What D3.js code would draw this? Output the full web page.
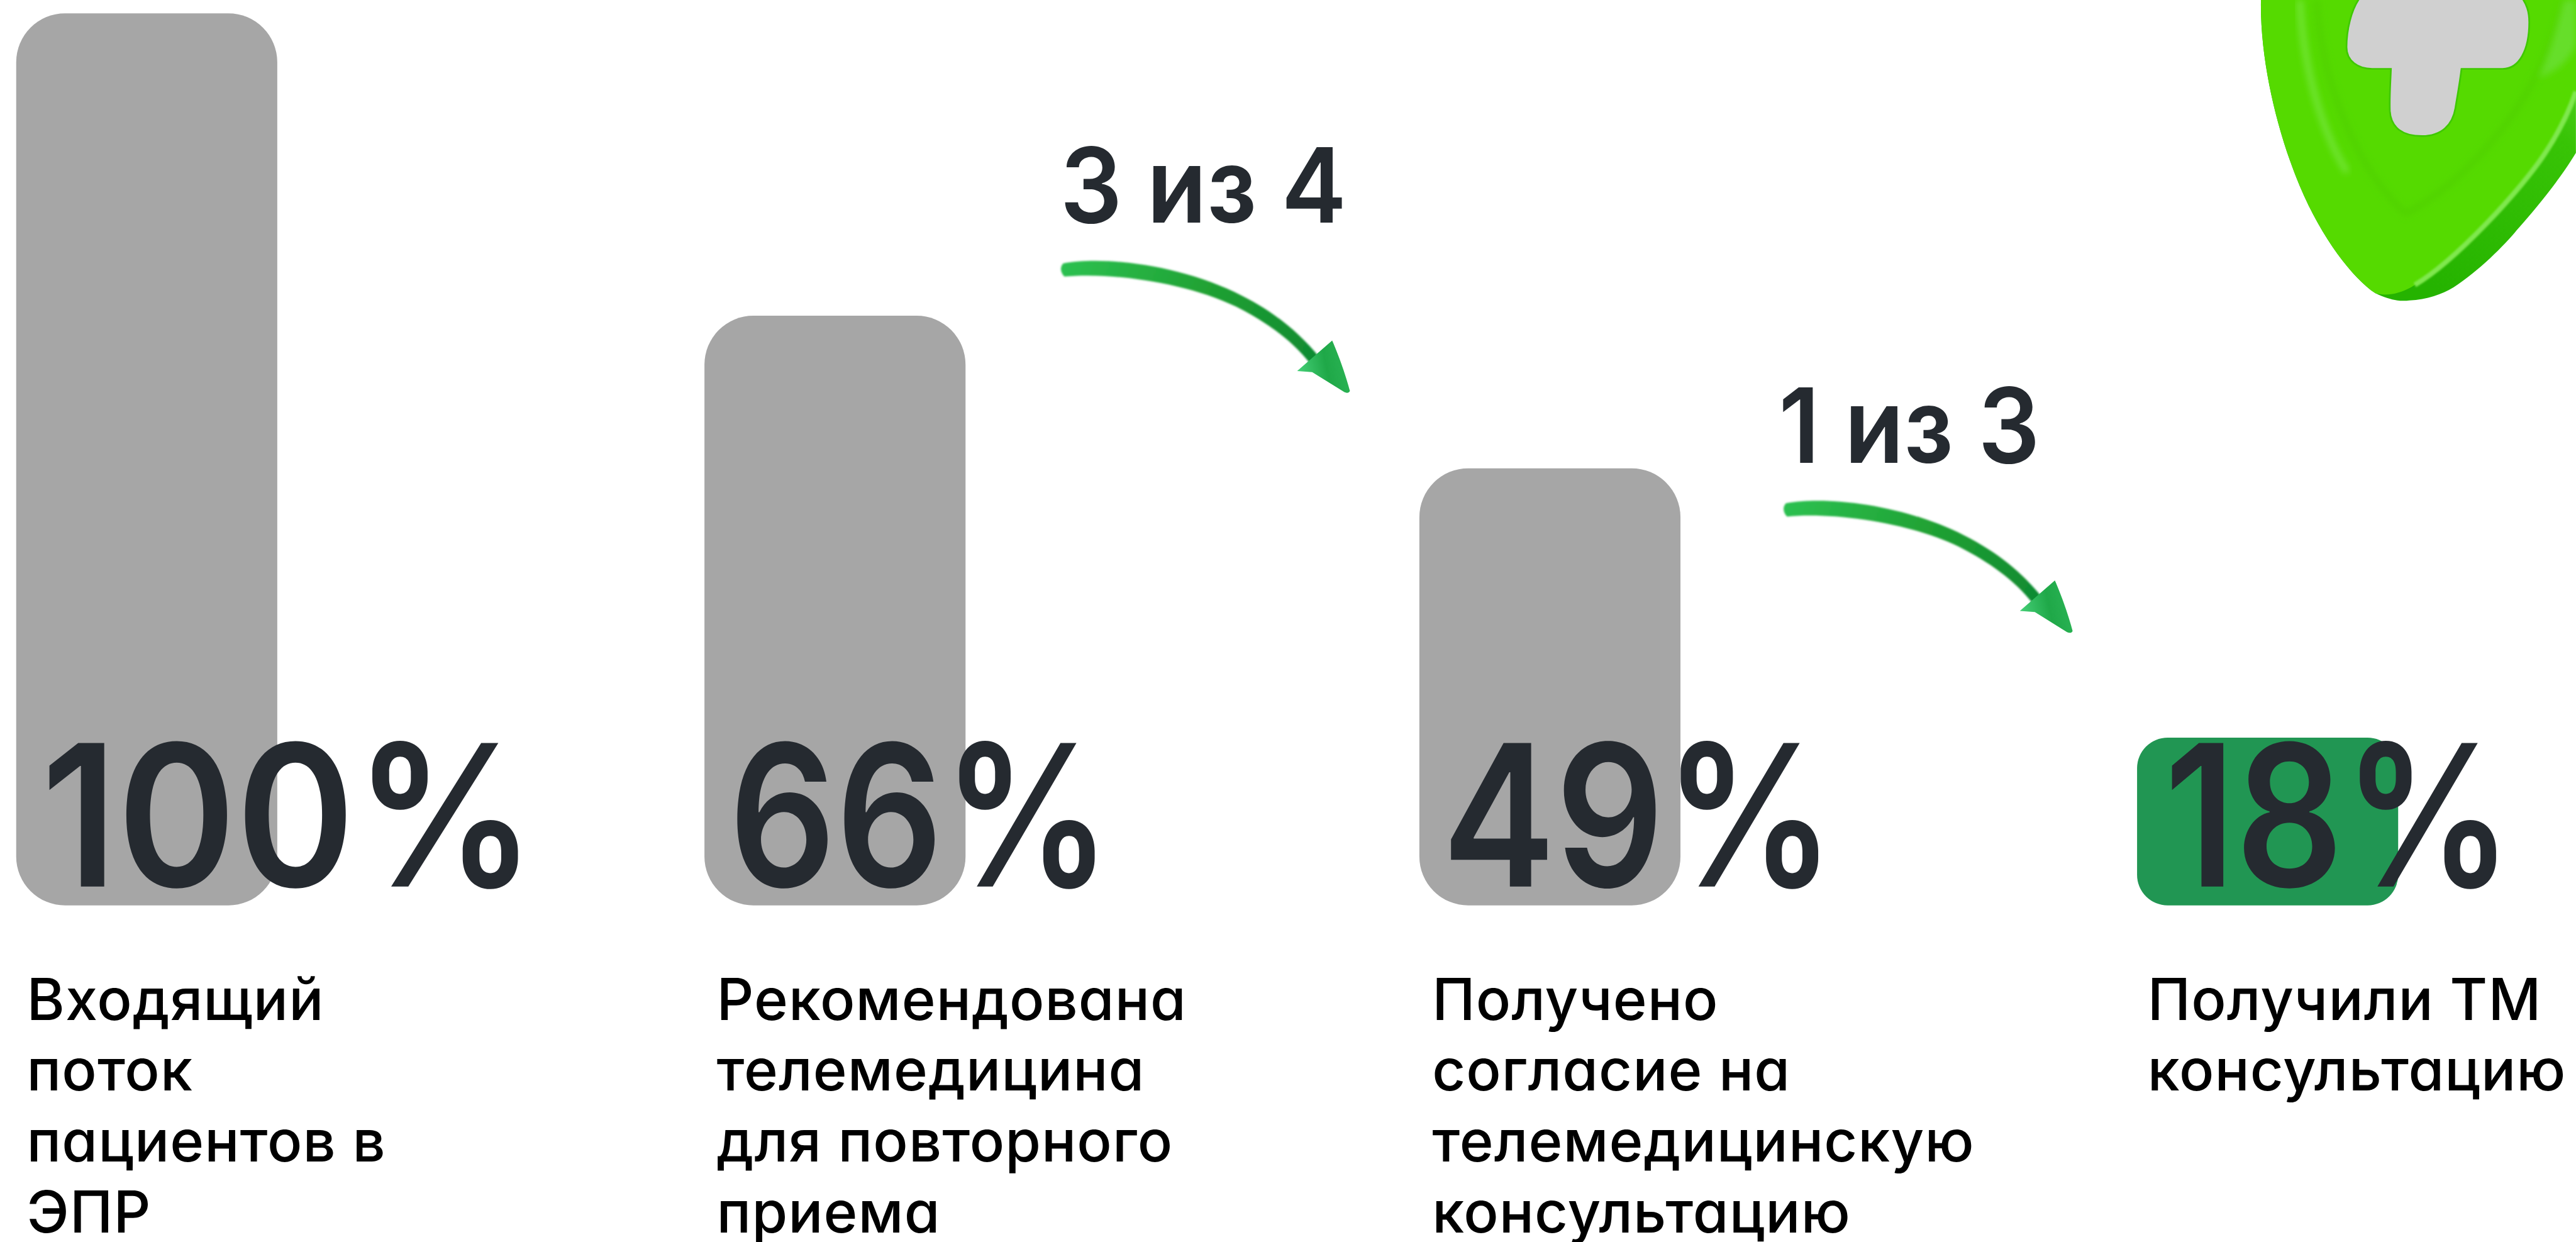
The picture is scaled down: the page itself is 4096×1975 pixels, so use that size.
<!DOCTYPE html>
<html>
<head>
<meta charset="utf-8">
<script src="https://cdn.jsdelivr.net/npm/d3@7"></script>
<style>
  html, body { margin: 0; padding: 0; background: #fff; overflow: hidden; }
  svg { display: block; }
  text { font-family: "Inter", "Noto Sans", sans-serif; font-feature-settings: "cv11" 1; }
</style>
</head>
<body>
<div id="chart"></div>
<script>
const categories = ["incoming", "recommended", "consent", "received"];
const barValues = [100, 66.1, 49, 18.8];
const valueLabels = ["100%", "66%", "49%", "18%"];
const captions = [
  ["Входящий", "поток", "пациентов в", "ЭПР"],
  ["Рекомендована", "телемедицина", "для повторного", "приема"],
  ["Получено", "согласие на", "телемедицинскую", "консультацию"],
  ["Получили ТМ", "консультацию"]
];
const ratioLabels = ["3 из 4", "1 из 3"];

// everything below is in reference pixels, the viewBox shrinks it to the window
const W = 4637, H = 2236;
const svg = d3.select("#chart").append("svg")
  .attr("width", 4096).attr("height", 1975)
  .attr("viewBox", `0 0 ${W} ${H}`);
const defs = svg.append("defs");

const x = d3.scaleOrdinal().domain(categories).range([29, 1268, 2555, 3847]);
const y = d3.scaleLinear().domain([0, 100]).range([1630, 24]);
const barW = 470;

defs.append("filter").attr("id", "soft").append("feGaussianBlur").attr("stdDeviation", 2);
defs.append("filter").attr("id", "softer").append("feGaussianBlur").attr("stdDeviation", 6);

// Shield
const rimGrad = defs.append("linearGradient").attr("id", "shieldRim")
  .attr("x1", 0).attr("y1", 1).attr("x2", 1).attr("y2", 0);
rimGrad.append("stop").attr("offset", "0.3").attr("stop-color", "#25b300");
rimGrad.append("stop").attr("offset", "0.75").attr("stop-color", "#38c406");
rimGrad.append("stop").attr("offset", "1").attr("stop-color", "#6ad83c");

const shield = svg.append("g");
shield.append("path")
  .attr("fill", "url(#shieldRim)")
  .attr("d", "M4070,0 C4068,110 4100,240 4140,335 C4180,430 4235,500 4276,528 C4300,540 4320,543 4337,541 C4370,539 4395,530 4417,517 C4460,490 4510,440 4530,415 C4570,370 4610,320 4637,275 L4637,0 Z");
shield.append("path")
  .attr("fill", "#55da00")
  .attr("d", "M4070,0 C4068,110 4100,240 4140,335 C4180,430 4235,500 4276,528 C4300,535 4330,525 4347,513 C4420,470 4540,340 4582,275 C4605,240 4625,200 4637,165 L4637,0 Z");
// highlight along the rim and the inner ridges
shield.append("path")
  .attr("fill", "none").attr("stroke", "#7fe84e").attr("stroke-width", 9).attr("filter", "url(#soft)")
  .attr("d", "M4347,513 C4420,470 4540,340 4582,275 C4605,240 4625,200 4637,165");
shield.append("path")
  .attr("fill", "none").attr("stroke", "#74e63a").attr("stroke-width", 10).attr("filter", "url(#softer)")
  .attr("d", "M4140,0 C4145,110 4175,230 4225,310");
shield.append("path")
  .attr("fill", "none").attr("stroke", "#4fd000").attr("stroke-width", 8).attr("filter", "url(#softer)")
  .attr("d", "M4170,0 C4178,130 4230,290 4330,385 C4420,340 4570,200 4615,0");
shield.append("path")
  .attr("fill", "#66de2c")
  .attr("d", "M4615,0 C4600,60 4590,95 4570,140 C4600,130 4625,110 4637,80 L4637,0 Z")
  .attr("filter", "url(#softer)");
shield.append("path")
  .attr("fill", "#d0d0d0")
  .attr("stroke", "#3fc800").attr("stroke-width", 3)
  .attr("d", "M4248,-4 C4232,18 4224,55 4224,85 C4224,110 4245,124 4270,124 L4304,124 C4303,150 4301,175 4302,200 C4304,230 4325,245 4360,245 C4395,245 4415,225 4420,195 C4424,170 4428,150 4431,124 L4505,124 C4535,124 4553,90 4553,40 C4553,20 4548,8 4540,-4 Z");

// Bars
svg.selectAll("rect.bar")
  .data(categories)
  .join("rect")
  .attr("class", "bar")
  .attr("x", d => x(d))
  .attr("y", (d, i) => y(barValues[i]))
  .attr("width", barW)
  .attr("height", (d, i) => y(0) - y(barValues[i]))
  .attr("rx", (d, i) => i === 3 ? 55 : 88)
  .attr("fill", (d, i) => i === 3 ? "#219653" : "#a6a6a6");

// Big percent labels
const labelLeft = [74, 1312, 2596, 3896];
const labelWidth = [890, 688, 707, 627];
svg.selectAll("text.value")
  .data(valueLabels)
  .join("text")
  .attr("class", "value")
  .attr("x", (d, i) => labelLeft[i])
  .attr("y", 1596)
  .attr("font-size", 355)
  .attr("font-weight", 600)
  .attr("fill", "#252a30")
  .attr("textLength", (d, i) => labelWidth[i])
  .attr("lengthAdjust", "spacingAndGlyphs")
  .text(d => d);

// Captions
const captionLeft = [48, 1290, 2578, 3866];
const capG = svg.selectAll("g.caption")
  .data(captions)
  .join("g")
  .attr("class", "caption");
capG.selectAll("text")
  .data((lines, i) => lines.map(t => ({ t, i })))
  .join("text")
  .attr("x", d => captionLeft[d.i])
  .attr("y", (d, j) => 1836 + j * 127.5)
  .attr("font-size", 104)
  .attr("font-weight", 500)
  .attr("letter-spacing", 1.2)
  .attr("fill", "#000")
  .text(d => d.t);

// Ratio labels and arrows
const arrowGrad = defs.append("linearGradient").attr("id", "arrowShaft")
  .attr("gradientUnits", "userSpaceOnUse")
  .attr("x1", 1912).attr("y1", 485).attr("x2", 2372).attr("y2", 650);
arrowGrad.append("stop").attr("offset", "0").attr("stop-color", "#2cc050");
arrowGrad.append("stop").attr("offset", "0.55").attr("stop-color", "#1fa032");
arrowGrad.append("stop").attr("offset", "1").attr("stop-color", "#0f8a30");
const headGrad = defs.append("linearGradient").attr("id", "arrowHead")
  .attr("x1", 0).attr("y1", 0.6).attr("x2", 1).attr("y2", 0.4);
headGrad.append("stop").attr("offset", "0").attr("stop-color", "#46d078");
headGrad.append("stop").attr("offset", "0.55").attr("stop-color", "#1fa848");
headGrad.append("stop").attr("offset", "1").attr("stop-color", "#2bb455");

const arrows = svg.selectAll("g.ratio")
  .data(ratioLabels)
  .join("g")
  .attr("class", "ratio")
  .attr("transform", (d, i) => `translate(${i * 1301},${i * 432})`);
arrows.append("text")
  .attr("x", (d, i) => i === 0 ? 1908 : 1901)
  .attr("y", 401)
  .attr("font-size", 187)
  .attr("font-weight", 600)
  .attr("fill", "#252a30")
  .attr("textLength", (d, i) => i === 0 ? 516 : 470)
  .attr("lengthAdjust", "spacingAndGlyphs")
  .text(d => d);
arrows.append("path")
  .attr("fill", "url(#arrowShaft)")
  .attr("filter", "url(#soft)")
  .attr("d", "M1914,474 C1990,460 2130,478 2235,532 C2295,562 2340,600 2374,642 L2358,654 C2325,612 2280,580 2225,552 C2130,506 1990,490 1916,498 C1908,490 1908,480 1914,474 Z");
arrows.append("path")
  .attr("fill", "url(#arrowHead)")
  .attr("d", "M2335,668 L2398,613 C2410,640 2424,680 2430,704 C2428,708 2424,708 2420,706 L2362,670 Z");
</script>
</body>
</html>
